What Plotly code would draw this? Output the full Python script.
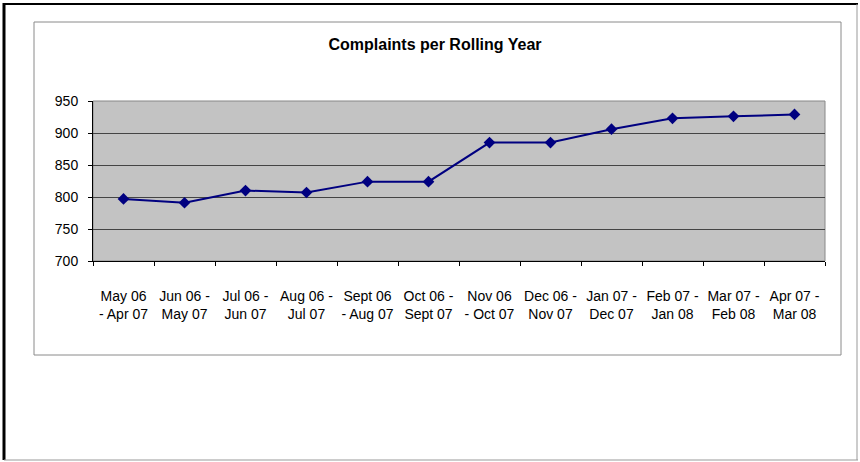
import plotly.graph_objects as go

categories = ["May 06<br>- Apr 07", "Jun 06 -<br>May 07", "Jul 06 -<br>Jun 07", "Aug 06 -<br>Jul 07",
              "Sept 06<br>- Aug 07", "Oct 06 -<br>Sept 07", "Nov 06<br>- Oct 07", "Dec 06 -<br>Nov 07",
              "Jan 07 -<br>Dec 07", "Feb 07 -<br>Jan 08", "Mar 07 -<br>Feb 08", "Apr 07 -<br>Mar 08"]
complaints = [797, 791, 810, 807, 824, 824, 885, 885, 906, 923, 926, 929]
y_ticks = [700, 750, 800, 850, 900, 950]

W, H = 860, 462
L, R, T, B = 93, 825, 101, 261
pw, ph = R - L, B - T

def px(x):
    return (x - L) / pw

def py(y):
    return (B - y) / ph

fig = go.Figure()
fig.add_trace(go.Scatter(
    x=categories, y=complaints, mode="lines+markers",
    line=dict(color="#000080", width=2),
    marker=dict(symbol="diamond", size=9, color="#000080"),
    showlegend=False,
))

shapes = [
    # outer frame
    dict(type="line", xref="paper", yref="paper", x0=px(4), x1=px(4), y0=py(3), y1=py(460), line=dict(color="black", width=3)),
    dict(type="line", xref="paper", yref="paper", x0=px(4), x1=px(858), y0=py(4), y1=py(4), line=dict(color="black", width=2)),
    dict(type="line", xref="paper", yref="paper", x0=px(857), x1=px(857), y0=py(4), y1=py(460), line=dict(color="#999999", width=1)),
    dict(type="line", xref="paper", yref="paper", x0=px(4), x1=px(858), y0=py(460), y1=py(460), line=dict(color="#999999", width=1)),
    # inner chart box
    dict(type="rect", xref="paper", yref="paper", x0=px(34), x1=px(841), y0=py(355), y1=py(22), line=dict(color="#8a8a8a", width=1)),
    # plot area border
    dict(type="rect", xref="paper", yref="paper", x0=0, x1=1, y0=0, y1=1, line=dict(color="#888888", width=1), layer="below"),
]

fig.update_layout(
    width=W, height=H,
    margin=dict(l=L, r=W - R, t=T, b=H - B),
    paper_bgcolor="white",
    plot_bgcolor="#c3c3c3",
    font=dict(family="Liberation Sans, Arial, sans-serif", color="black", size=14),
    title=dict(text="<b>Complaints per Rolling Year</b>", x=px(435), xref="paper", xanchor="center",
               y=1 - 44 / H, yref="container", yanchor="middle", font=dict(size=16)),
    shapes=shapes,
    xaxis=dict(
        type="category", showgrid=False, showline=True, linecolor="black", linewidth=1,
        ticks="outside", ticklen=4, tickcolor="black", tickson="boundaries",
        tickfont=dict(size=14), tickangle=0, ticklabelstandoff=22, range=[-0.5, 11.5],
    ),
    yaxis=dict(
        range=[700, 950], tickvals=y_ticks, showgrid=True, gridcolor="#444444", gridwidth=1,
        showline=True, linecolor="black", linewidth=1, ticks="outside", ticklen=4, tickcolor="black",
        tickfont=dict(size=14), ticklabelstandoff=7, zeroline=False,
    ),
)

fig.write_html("out.html", config={"displayModeBar": False},
               post_script="document.body.style.margin='0';document.body.style.overflow='hidden';")
